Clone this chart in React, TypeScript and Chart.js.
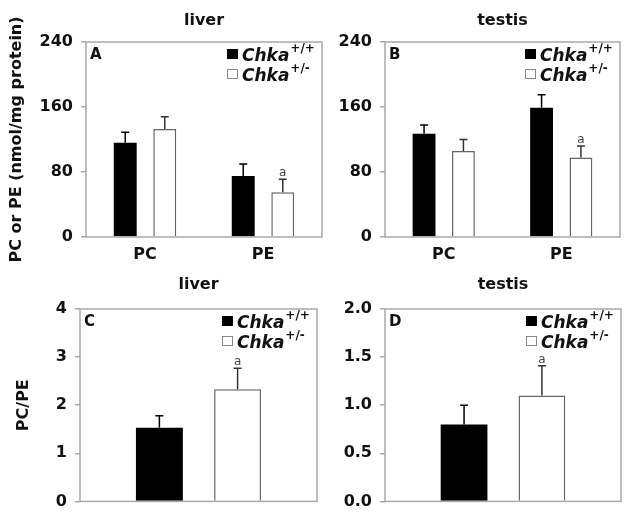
import React, { useEffect, useRef } from "react";
import { Chart, registerables } from "chart.js";

Chart.register(...registerables);

// ---------- data ----------
const categoriesTop = ["PC", "PE"];
const categoriesBottom = [""];

const liverWT = [116, 75];
const liverWTErr = [13, 15];
const liverHet = [133, 55];
const liverHetErr = [15, 16];
const liverHetSig = [false, true];

const testisWT = [127, 159];
const testisWTErr = [11, 16];
const testisHet = [106, 98];
const testisHetErr = [14, 14];
const testisHetSig = [false, true];

const liverRatioWT = [1.53];
const liverRatioWTErr = [0.25];
const liverRatioHet = [2.33];
const liverRatioHetErr = [0.44];
const liverRatioSig = [true];

const testisRatioWT = [0.8];
const testisRatioWTErr = [0.2];
const testisRatioHet = [1.1];
const testisRatioHetErr = [0.31];
const testisRatioSig = [true];

const ticksAmount = [0, 80, 160, 240];
const ticksLiverRatio = [0, 1, 2, 3, 4];
const ticksTestisRatio = [0, 0.5, 1, 1.5, 2];

const seriesBase = "Chka";
const seriesSup = ["+/+", "+/-"];

const FONT = "'DejaVu Sans', sans-serif";

type Panel = {
  key: string;
  title: string;
  letter: string;
  yTitle?: string;
  yTitleX?: number;
  left: number;
  top: number;
  w: number;
  h: number;
  area: { l: number; t: number; r: number; b: number };
  titleY: number;
  labels: string[];
  wt: number[];
  wtErr: number[];
  het: number[];
  hetErr: number[];
  sig: boolean[];
  ticks: number[];
  decimals: number;
  showX: boolean;
  catPct: number;
  barPct: number;
};

const panels: Panel[] = [
  {
    key: "A", title: "liver", letter: "A", yTitle: "PC or PE (nmol/mg protein)", yTitleX: 17,
    left: 0, top: 0, w: 330, h: 268, area: { l: 86, t: 42, r: 322, b: 237 }, titleY: 25,
    labels: categoriesTop, wt: liverWT, wtErr: liverWTErr, het: liverHet, hetErr: liverHetErr, sig: liverHetSig,
    ticks: ticksAmount, decimals: 0, showX: true, catPct: 0.67, barPct: 0.58,
  },
  {
    key: "B", title: "testis", letter: "B",
    left: 330, top: 0, w: 299, h: 268, area: { l: 55, t: 42, r: 290, b: 237 }, titleY: 25,
    labels: categoriesTop, wt: testisWT, wtErr: testisWTErr, het: testisHet, hetErr: testisHetErr, sig: testisHetSig,
    ticks: ticksAmount, decimals: 0, showX: true, catPct: 0.67, barPct: 0.58,
  },
  {
    key: "C", title: "liver", letter: "C", yTitle: "PC/PE", yTitleX: 24,
    left: 0, top: 268, w: 330, h: 251, area: { l: 80, t: 41, r: 317, b: 235 }, titleY: 21,
    labels: categoriesBottom, wt: liverRatioWT, wtErr: liverRatioWTErr, het: liverRatioHet, hetErr: liverRatioHetErr, sig: liverRatioSig,
    ticks: ticksLiverRatio, decimals: 0, showX: false, catPct: 0.66, barPct: 0.6,
  },
  {
    key: "D", title: "testis", letter: "D",
    left: 330, top: 268, w: 299, h: 251, area: { l: 55, t: 41, r: 291, b: 235 }, titleY: 21,
    labels: categoriesBottom, wt: testisRatioWT, wtErr: testisRatioWTErr, het: testisRatioHet, hetErr: testisRatioHetErr, sig: testisRatioSig,
    ticks: ticksTestisRatio, decimals: 1, showX: false, catPct: 0.66, barPct: 0.6,
  },
];

function makeDecor(p: Panel) {
  return {
    id: "decor" + p.key,
    afterDraw(chart: any) {
      const ctx = chart.ctx as CanvasRenderingContext2D;
      const ca = chart.chartArea;
      const yScale = chart.scales.y;
      ctx.save();

      // error bars
      const errs = [p.wtErr, p.hetErr];
      const vals = [p.wt, p.het];
      [0, 1].forEach((di) => {
        const meta = chart.getDatasetMeta(di);
        meta.data.forEach((el: any, i: number) => {
          const top = yScale.getPixelForValue(vals[di][i] + errs[di][i]);
          ctx.strokeStyle = di === 0 ? "#000" : "#333";
          ctx.lineWidth = 1.5;
          ctx.beginPath();
          ctx.moveTo(el.x, el.y);
          ctx.lineTo(el.x, top);
          ctx.moveTo(el.x - 4, top);
          ctx.lineTo(el.x + 4, top);
          ctx.stroke();
          if (di === 1 && p.sig[i]) {
            ctx.fillStyle = "#444";
            ctx.font = `12px ${FONT}`;
            ctx.textAlign = "center";
            ctx.textBaseline = "alphabetic";
            ctx.fillText("a", el.x, top - 3);
          }
        });
      });

      // frame
      ctx.strokeStyle = "#a8a8a8";
      ctx.lineWidth = 1.5;
      ctx.strokeRect(ca.left, ca.top, ca.right - ca.left, ca.bottom - ca.top);

      // title
      ctx.fillStyle = "#111";
      ctx.font = `bold 16px ${FONT}`;
      ctx.textAlign = "center";
      ctx.textBaseline = "alphabetic";
      ctx.fillText(p.title, (ca.left + ca.right) / 2, p.titleY);

      // panel letter
      ctx.font = `bold 15px ${FONT}`;
      ctx.textAlign = "left";
      ctx.fillText(p.letter, ca.left + 4, ca.top + 17);

      // y-axis title
      if (p.yTitle) {
        ctx.save();
        ctx.translate(p.yTitleX as number, (ca.top + ca.bottom) / 2);
        ctx.rotate(-Math.PI / 2);
        ctx.font = `bold 16px ${FONT}`;
        ctx.textAlign = "center";
        ctx.textBaseline = "middle";
        ctx.fillStyle = "#111";
        ctx.fillText(p.yTitle, 0, 0);
        ctx.restore();
      }

      // legend
      const fills = ["#000", "#fff"];
      [0, 1].forEach((i) => {
        const base = ca.top + 19 + i * 20;
        const sx = ca.right - 95;
        ctx.fillStyle = fills[i];
        ctx.fillRect(sx, base - 12, 11, 10);
        if (i === 1) {
          ctx.strokeStyle = "#888";
          ctx.lineWidth = 1;
          ctx.strokeRect(sx + 0.5, base - 11.5, 10, 9);
        }
        ctx.fillStyle = "#111";
        ctx.font = `italic bold 17px ${FONT}`;
        ctx.textAlign = "left";
        ctx.textBaseline = "alphabetic";
        const tx = ca.right - 80;
        ctx.fillText(seriesBase, tx, base);
        const wdt = ctx.measureText(seriesBase).width;
        ctx.font = `bold 12px ${FONT}`;
        ctx.fillText(seriesSup[i], tx + wdt + 1, base - 9);
      });

      ctx.restore();
    },
  };
}

function PanelChart({ p }: { p: Panel }) {
  const ref = useRef<HTMLCanvasElement | null>(null);
  useEffect(() => {
    const canvas = ref.current;
    if (!canvas) return;
    const chart = new Chart(canvas, {
      type: "bar",
      data: {
        labels: p.labels,
        datasets: [
          {
            label: seriesBase + seriesSup[0], data: p.wt, backgroundColor: "#000", borderColor: "#000", borderWidth: 0,
            categoryPercentage: p.catPct, barPercentage: p.barPct,
          },
          {
            label: seriesBase + seriesSup[1], data: p.het, backgroundColor: "#fff", borderColor: "#666", borderWidth: 1.5,
            categoryPercentage: p.catPct, barPercentage: p.barPct,
          },
        ],
      },
      options: {
        responsive: false,
        maintainAspectRatio: false,
        animation: false,
        devicePixelRatio: 1,
        layout: { padding: { left: 0, top: p.area.t, right: p.w - p.area.r, bottom: 0 } },
        plugins: { legend: { display: false }, title: { display: false }, tooltip: { enabled: false } },
        scales: {
          x: {
            type: "category",
            grid: { display: false, drawTicks: false },
            border: { display: false },
            ticks: { display: p.showX, color: "#111", padding: 8, font: { family: FONT, size: 16, weight: "bold" } },
            afterFit: (s: any) => { s.height = p.h - p.area.b; },
          },
          y: {
            type: "linear",
            min: p.ticks[0],
            max: p.ticks[p.ticks.length - 1],
            afterBuildTicks: (s: any) => { s.ticks = p.ticks.map((v) => ({ value: v })); },
            grid: { display: true, drawOnChartArea: false, drawTicks: true, tickLength: 5, color: "#a8a8a8", lineWidth: 1.5 },
            border: { display: false },
            ticks: {
              color: "#111",
              padding: 8,
              font: { family: FONT, size: 16, weight: "bold" },
              callback: (v: any) => (p.decimals ? Number(v).toFixed(p.decimals) : String(v)),
            },
            afterFit: (s: any) => { s.width = p.area.l; },
          },
        },
      } as any,
      plugins: [makeDecor(p)],
    });
    return () => chart.destroy();
  }, [p]);
  return (
    <canvas
      ref={ref}
      width={p.w}
      height={p.h}
      style={{ position: "absolute", left: p.left, top: p.top, width: p.w, height: p.h, display: "block" }}
    />
  );
}

export default function App() {
  return (
    <div style={{ position: "absolute", left: 0, top: 0, width: 629, height: 519, background: "#fff", overflow: "hidden" }}>
      {panels.map((p) => (
        <PanelChart key={p.key} p={p} />
      ))}
    </div>
  );
}
